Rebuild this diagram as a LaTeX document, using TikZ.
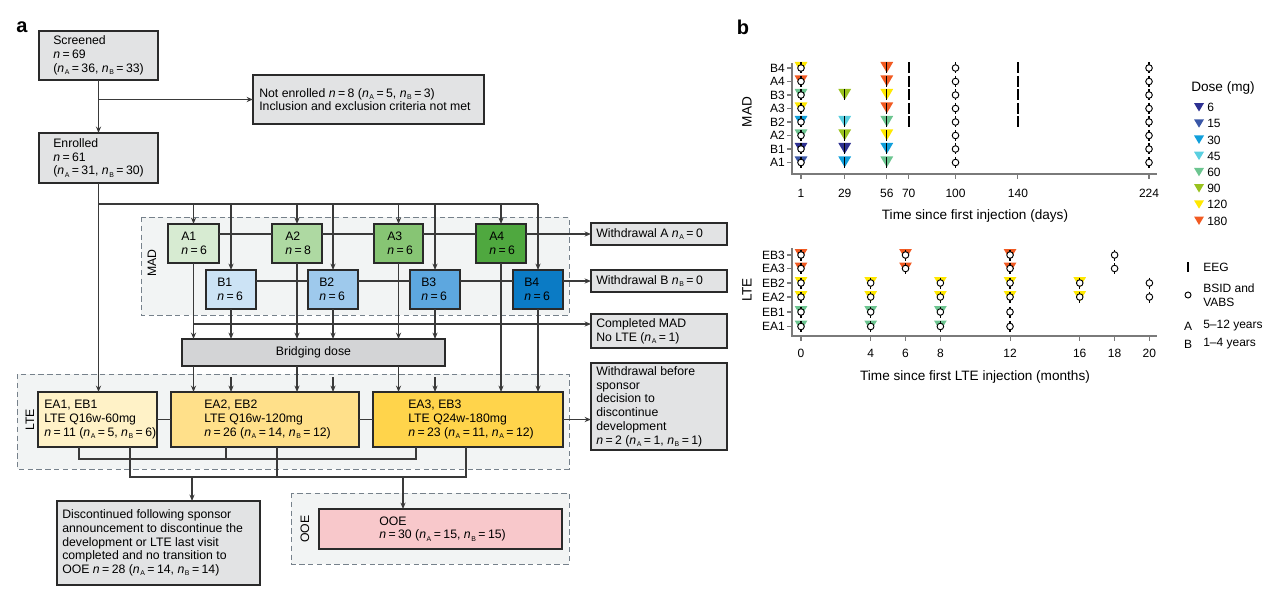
\documentclass[tikz,border=0pt]{standalone}
\usepackage{fontspec}
\setmainfont{Liberation Sans}
\usetikzlibrary{arrows.meta}
\definecolor{cline}{HTML}{3A3A3A}
\definecolor{bline}{HTML}{2A2A2A}
\definecolor{gbox}{HTML}{E2E3E4}
\definecolor{brfill}{HTML}{D3D4D6}
\definecolor{regfill}{HTML}{F2F4F4}
\definecolor{dline}{HTML}{76818B}
\definecolor{ca1}{HTML}{D7EBD2}
\definecolor{ca2}{HTML}{AED9A2}
\definecolor{ca3}{HTML}{87C574}
\definecolor{ca4}{HTML}{4FA83F}
\definecolor{cb1}{HTML}{CCE3F5}
\definecolor{cb2}{HTML}{9EC9EC}
\definecolor{cb3}{HTML}{5DA7DF}
\definecolor{cb4}{HTML}{0B7BC5}
\definecolor{ce1}{HTML}{FFF2C7}
\definecolor{ce2}{HTML}{FFE08A}
\definecolor{ce3}{HTML}{FFD44B}
\definecolor{cooe}{HTML}{F8C8CB}
\definecolor{axisc}{HTML}{7A7A7A}
\definecolor{d6}{HTML}{2E3192}
\definecolor{d15}{HTML}{3A57A7}
\definecolor{d30}{HTML}{119FDB}
\definecolor{d45}{HTML}{5ACFE0}
\definecolor{d60}{HTML}{6CC590}
\definecolor{d90}{HTML}{99C21F}
\definecolor{d120}{HTML}{FFE800}
\definecolor{d180}{HTML}{F15A22}
\newcommand\nn[1]{\textit{n}\kern0.05em\raisebox{-0.35ex}{\fontsize{5.2}{6}\selectfont #1}}
\newcommand\eq{\kern0.2em=\kern0.2em}
\newcommand\rbox[6]{\node[box,#2,minimum width={(#5-#3)*0.75pt},minimum height={(#6-#4)*0.75pt}] (#1) at ({(#3+#5)/2},{(#4+#6)/2}) {};}
\newcommand\tx[4]{\node[txt] (#1) at ([xshift=#3*0.75pt]#2.west) {#4};}
\newcommand\mtri[3]{\fill[fill=#3] ({#1-6.4},{#2-6}) -- ({#1+6.4},{#2-6}) -- ({#1},{#2+4.8}) -- cycle;}
\newcommand\ltri[3]{\fill[fill=#3] ({#1-5},{#2-4.4}) -- ({#1+5},{#2-4.4}) -- ({#1},{#2+4}) -- cycle;}
\newcommand\mbar[2]{\draw[line width=1pt,black] ({#1},{#2-5.5}) -- ({#1},{#2+5.5});}
\newcommand\ebar[2]{\draw[line width=1.6pt,black] ({#1},{#2-5.5}) -- ({#1},{#2+5.5});}
\newcommand\mcirc[2]{\draw[line width=0.7pt,black,fill=white] ({#1},{#2}) circle[radius=3.3];}
\begin{document}
\begin{tikzpicture}[x=0.75pt,y=-0.75pt,
 conn/.style={draw=cline,line width=0.85pt},
 arr/.style={conn,-{Stealth[length=4.8pt,width=3.8pt]}},
 box/.style={draw=bline,line width=0.85pt,inner sep=0pt,outer sep=0pt},
 txt/.style={font=\fontsize{9.2}{10.3}\selectfont,align=left,inner sep=0pt,anchor=west},
 region/.style={draw=dline,line width=0.75pt,dash pattern=on 4pt off 2.6pt,fill=regfill},
 rlab/.style={rotate=90,font=\fontsize{9.2}{10}\selectfont,inner sep=0pt},
 axisl/.style={draw=axisc,line width=0.8pt},
 tick/.style={font=\fontsize{9}{10}\selectfont,inner sep=0pt},
 atitle/.style={font=\fontsize{10.2}{12}\selectfont,inner sep=0pt},
 plab/.style={font=\fontsize{15}{16}\selectfont\bfseries,inner sep=0pt}]
\useasboundingbox (0,0) rectangle (1280,599);
% ---------- panel a ----------
\node[plab] (pa) at (22,27) {a};
\draw[region] (141,217) rectangle (569,315);
\draw[region] (17,374) rectangle (569,469);
\draw[region] (291,493) rectangle (569,564);
\node[rlab] (madL) at (152,263) {MAD};
\node[rlab] (lteL) at (30,420) {LTE};
\node[rlab] (ooeL) at (305,529) {OOE};

\rbox{scr}{fill=gbox}{39}{31}{158}{80}
\tx{scrT}{scr}{14}{Screened\\\textit{n}\eq 69\\(\nn{A}\eq 36, \nn{B}\eq 33)}
\rbox{ne}{fill=gbox}{253}{75}{484}{124}
\tx{neT}{ne}{6}{Not enrolled \textit{n}\eq 8 (\nn{A}\eq 5, \nn{B}\eq 3)\\Inclusion and exclusion criteria not met}
\rbox{enr}{fill=gbox}{39}{133}{158}{183}
\tx{enrT}{enr}{14}{Enrolled\\\textit{n}\eq 61\\(\nn{A}\eq 31, \nn{B}\eq 30)}

\rbox{a1}{fill=ca1}{168}{224}{219}{263}
\rbox{a2}{fill=ca2}{272}{224}{322}{263}
\rbox{a3}{fill=ca3}{374}{224}{423}{263}
\rbox{a4}{fill=ca4}{476}{224}{526}{263}
\rbox{b1}{fill=cb1}{206}{270}{256}{309}
\rbox{b2}{fill=cb2}{308}{270}{358}{309}
\rbox{b3}{fill=cb3}{410}{270}{460}{309}
\rbox{b4}{fill=cb4}{513}{270}{563}{309}
\tx{a1T}{a1}{13}{A1\\\textit{n}\eq 6}
\tx{a2T}{a2}{13}{A2\\\textit{n}\eq 8}
\tx{a3T}{a3}{13}{A3\\\textit{n}\eq 6}
\tx{a4T}{a4}{13}{A4\\\textit{n}\eq 6}
\tx{b1T}{b1}{11}{B1\\\textit{n}\eq 6}
\tx{b2T}{b2}{11}{B2\\\textit{n}\eq 6}
\tx{b3T}{b3}{11}{B3\\\textit{n}\eq 6}
\tx{b4T}{b4}{11}{B4\\\textit{n}\eq 6}

\rbox{wa}{fill=gbox}{591}{223}{727}{245}
\tx{waT}{wa}{5}{Withdrawal A \nn{A}\eq 0}
\rbox{wb}{fill=gbox}{591}{270}{727}{292}
\tx{wbT}{wb}{5}{Withdrawal B \nn{B}\eq 0}
\rbox{cm}{fill=gbox}{591}{314}{727}{348}
\tx{cmT}{cm}{5}{Completed MAD\\No LTE (\nn{A}\eq 1)}
\rbox{wbf}{fill=gbox}{591}{363}{727}{450}
\tx{wbfT}{wbf}{5}{Withdrawal before\\sponsor\\decision to\\discontinue\\development\\\textit{n}\eq 2 (\nn{A}\eq 1, \nn{B}\eq 1)}

\rbox{br}{fill=brfill}{182}{339}{445}{366}
\node[txt,anchor=center] (brT) at (br.center) {Bridging dose};

\rbox{ea1}{fill=ce1}{38}{392}{157}{447}
\rbox{ea2}{fill=ce2}{171}{392}{359}{447}
\rbox{ea3}{fill=ce3}{373}{392}{563}{447}
\tx{ea1T}{ea1}{6}{EA1, EB1\\LTE Q16w-60mg\\\textit{n}\eq 11 (\nn{A}\eq 5, \nn{B}\eq 6)}
\tx{ea2T}{ea2}{33}{EA2, EB2\\LTE Q16w-120mg\\\textit{n}\eq 26 (\nn{A}\eq 14, \nn{B}\eq 12)}
\tx{ea3T}{ea3}{35}{EA3, EB3\\LTE Q24w-180mg\\\textit{n}\eq 23 (\nn{A}\eq 11, \nn{A}\eq 12)}

\rbox{disc}{fill=gbox}{57}{501}{260}{585}
\tx{discT}{disc}{5}{Discontinued following sponsor\\announcement to discontinue the\\development or LTE last visit\\completed and no transition to\\OOE \textit{n}\eq 28 (\nn{A}\eq 14, \nn{B}\eq 14)}
\rbox{ooe}{fill=cooe}{319}{509}{562}{549}
\tx{ooeT}{ooe}{60}{OOE\\\textit{n}\eq 30 (\nn{A}\eq 15, \nn{B}\eq 15)}

% connectors
\draw[arr] (scr.south) -- (enr.north);
\draw[arr] (scr.south |- ne.west) -- (ne.west);
\coordinate (topbus) at (0,204);
\draw[arr] (enr.south) -- (enr.south |- ea1.north);
\draw[conn] (enr.south |- topbus) -- (b4.north |- topbus);
\foreach \n in {a1,a2,a3,a4,b1,b2,b3,b4} \draw[arr] (\n.north |- topbus) -- (\n.north);
\coordinate (arow) at (0,234);
\draw[conn] (a1.east |- arow) -- (a2.west |- arow) (a2.east |- arow) -- (a3.west |- arow) (a3.east |- arow) -- (a4.west |- arow);
\draw[arr] (a4.east |- arow) -- (wa.west |- arow);
\coordinate (brow) at (0,281);
\draw[conn] (b1.east |- brow) -- (b2.west |- brow) (b2.east |- brow) -- (b3.west |- brow) (b3.east |- brow) -- (b4.west |- brow);
\draw[arr] (b4.east |- brow) -- (wb.west |- brow);
\foreach \n in {a1,a2,a3,b1,b2,b3} \draw[arr] (\n.south) -- (\n.south |- br.north);
\foreach \n in {a4,b4} \draw[arr] (\n.south) -- (\n.south |- ea3.north);
\coordinate (cmrow) at (0,324);
\draw[arr] (a1.south |- cmrow) -- (cm.west |- cmrow);
\draw[arr] (a1.south |- br.south) -- (a1.south |- ea2.north);
\draw[arr] (a2.south |- br.south) -- (a2.south |- ea2.north);
\draw[arr] (a3.south |- br.south) -- (a3.south |- ea3.north);
\coordinate (shortrow) at (0,377);
\draw[arr] (b1.south |- shortrow) -- (b1.south |- ea2.north);
\draw[arr] (b2.south |- shortrow) -- (b2.south |- ea2.north);
\draw[arr] (b3.south |- shortrow) -- (b3.south |- ea3.north);
\draw[conn] (ea1.east) -- (ea2.west) (ea2.east) -- (ea3.west);
\draw[arr] (ea3.east) -- (wbf.west |- ea3.east);
\coordinate (g1) at (0,459);
\coordinate (g2) at (0,477);
\draw[conn] (79,0 |- ea1.south) -- (79,0 |- g1) -- (416,0 |- g1) -- (416,0 |- ea3.south);
\draw[conn] (226,0 |- ea2.south) -- (226,0 |- g1);
\draw[conn] (130,0 |- ea1.south) -- (130,0 |- g2) -- (466,0 |- g2) -- (466,0 |- ea3.south);
\draw[conn] (277,0 |- ea2.south) -- (277,0 |- g2);
\draw[arr] (192,0 |- g2) -- (192,0 |- disc.north);
\draw[arr] (403,0 |- g2) -- (403,0 |- ooe.north);

% ---------- panel b ----------
\node[plab] (pb) at (743,27) {b};
% MAD chart
\draw[axisl] (792,63) -- (792,174) -- (1157,174);
\foreach \yy/\lab in {68/B4,81.5/A4,95/B3,108.5/A3,122/B2,135.5/A2,149/B1,162.5/A1}{
  \draw[axisl] (787,\yy) -- (792,\yy);
  \node[tick,anchor=east] (mr\lab) at (785,\yy) {\lab};}
\foreach \xx/\lab in {801/1,844.7/29,886.8/56,908.7/70,955.5/100,1017.9/140,1149/224}{
  \draw[axisl] (\xx,174) -- (\xx,179);
  \node[tick] (mx\lab) at (\xx,193) {\lab};}
\node[atitle] (madT) at (975,216) {Time since first injection (days)};
\node[rlab,font=\fontsize{10.2}{12}\selectfont] (madY) at (747,112) {MAD};
\foreach \yy/\cc in {68/d120,81.5/d180,95/d60,108.5/d120,122/d30,135.5/d60,149/d6,162.5/d15}{
  \mtri{801}{\yy}{\cc}\mbar{801}{\yy}\mcirc{801}{\yy}}
\foreach \yy/\cc in {95/d90,122/d45,135.5/d90,149/d6,162.5/d30}{
  \mtri{844.7}{\yy}{\cc}\mbar{844.7}{\yy}}
\foreach \yy/\cc in {68/d180,81.5/d180,95/d120,108.5/d180,122/d60,135.5/d120,149/d30,162.5/d60}{
  \mtri{886.8}{\yy}{\cc}\mbar{886.8}{\yy}}
\foreach \yy in {68,81.5,95,108.5,122}{\ebar{908.7}{\yy}\ebar{1017.9}{\yy}}
\foreach \yy in {68,81.5,95,108.5,122,135.5,149,162.5}{
  \mbar{955.5}{\yy}\mcirc{955.5}{\yy}\mbar{1149}{\yy}\mcirc{1149}{\yy}}
% LTE chart
\draw[axisl] (792,248) -- (792,336) -- (1157,336);
\foreach \yy/\lab in {255/EB3,268.5/EA3,283/EB2,297/EA2,312/EB1,326.5/EA1}{
  \draw[axisl] (787,\yy) -- (792,\yy);
  \node[tick,anchor=east] (lr\lab) at (785,\yy) {\lab};}
\foreach \m in {0,4,6,8,12,16,18,20}{
  \draw[axisl] ({801+17.42*\m},336) -- ({801+17.42*\m},341);
  \node[tick] (lx\m) at ({801+17.42*\m},353) {\m};}
\node[atitle] (lteT) at (975,377) {Time since first LTE injection (months)};
\node[rlab,font=\fontsize{10.2}{12}\selectfont] (lteY) at (747,290) {LTE};
\foreach \yy in {255,268.5}{
  \foreach \m in {0,6,12}{\mtri{801+17.42*\m}{\yy}{d180}\mbar{801+17.42*\m}{\yy}\mcirc{801+17.42*\m}{\yy}}
  \mbar{1114.6}{\yy}\mcirc{1114.6}{\yy}}
\foreach \yy in {283,297}{
  \foreach \m in {0,4,8,12,16}{\mtri{801+17.42*\m}{\yy}{d120}\mbar{801+17.42*\m}{\yy}\mcirc{801+17.42*\m}{\yy}}
  \mbar{1149.4}{\yy}\mcirc{1149.4}{\yy}}
\foreach \yy in {312,326.5}{
  \foreach \m in {0,4,8}{\mtri{801+17.42*\m}{\yy}{d60}\mbar{801+17.42*\m}{\yy}\mcirc{801+17.42*\m}{\yy}}
  \mbar{1010}{\yy}\mcirc{1010}{\yy}}
% legend
\node[atitle,anchor=west] (doseT) at (1191,88) {Dose (mg)};
\foreach \yy/\cc/\lab in {107.5/d6/6,123.7/d15/15,139.9/d30/30,156.1/d45/45,172.3/d60/60,188.5/d90/90,204.7/d120/120,220.9/d180/180}{
  \ltri{1199}{\yy}{\cc}
  \node[tick,anchor=west] (lg\lab) at (1207,\yy) {\lab};}
\draw[line width=1.8pt,black] (1188,262) -- (1188,272);
\node[tick,anchor=west] (lgEEG) at (1203,267) {EEG};
\draw[line width=0.7pt,black,fill=white] (1188,295) circle[radius=3];
\node[tick,anchor=west,align=left,font=\fontsize{9}{10.5}\selectfont] (lgB) at (1203,295) {BSID and\\VABS};
\node[tick] (lgA1) at (1188,326) {A};
\node[tick,anchor=west] (lgA2) at (1203,326) {5–12 years};
\node[tick] (lgB1) at (1188,344) {B};
\node[tick,anchor=west] (lgB2) at (1203,344) {1–4 years};
\end{tikzpicture}
\end{document}
